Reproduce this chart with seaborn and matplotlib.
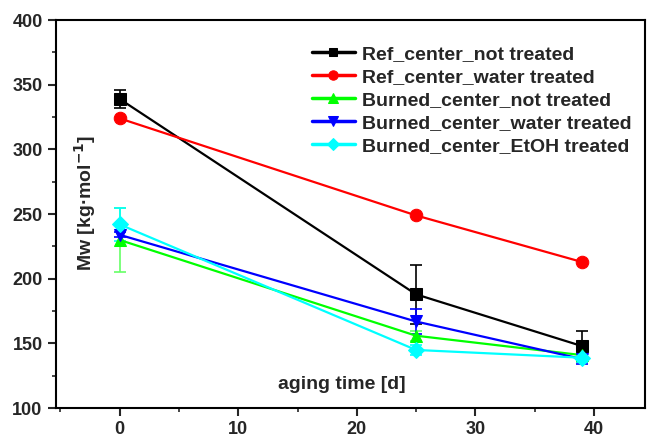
import pandas as pd
import seaborn as sns
import matplotlib.pyplot as plt
from matplotlib.ticker import MultipleLocator

days = [0, 25, 39]
series = ['Ref_center_not treated', 'Ref_center_water treated',
          'Burned_center_not treated', 'Burned_center_water treated',
          'Burned_center_EtOH treated']
ref_not = [339, 188, 148]
ref_not_err = [7, 23, 12]
ref_water = [324, 249, 213]
ref_water_err = [0, 0, 0]
burn_not = [230, 156, 141]
burn_not_err = [25, 4, 3]
burn_water = [234, 167, 138]
burn_water_err = [2, 10, 4]
burn_etoh = [242, 145, 139]
burn_etoh_err = [13, 4, 3]

colors = ['#000000', '#ff0000', '#00ff00', '#0000ff', '#00ffff']
markers = ['s', 'o', '^', 'v', 'D']
sizes = [8, 9, 9, 9, 8]

vals = [ref_not, ref_water, burn_not, burn_water, burn_etoh]
errs = [ref_not_err, ref_water_err, burn_not_err, burn_water_err, burn_etoh_err]

rows = []
for name, v, e in zip(series, vals, errs):
    for d, y, s in zip(days, v, e):
        rows.append({'day': d, 'Mw': y, 'err': s, 'sample': name})
df = pd.DataFrame(rows)

sns.set_style('white')
plt.rcParams['font.family'] = ['Liberation Sans', 'DejaVu Sans']
plt.rcParams['font.weight'] = 'bold'

fig = plt.figure(figsize=(6.48, 4.37), dpi=100)
ax = fig.add_axes([0.086, 0.066, 0.909, 0.888])

# error bars first, under the markers
for name, c in zip(series, colors):
    sub = df[df['sample'] == name]
    if sub['err'].sum() > 0:
        ax.errorbar(sub['day'], sub['Mw'], yerr=sub['err'], fmt='none',
                    ecolor=c if c != '#00ff00' else '#66ff66', elinewidth=1.2,
                    capsize=4, capthick=1.2, zorder=2)

for name, c, m, s in zip(series, colors, markers, sizes):
    sub = df[df['sample'] == name]
    sns.lineplot(data=sub, x='day', y='Mw', color=c, marker=m, markersize=s,
                 markeredgecolor=c, linewidth=1.6, label=name, ax=ax, zorder=3)

ax.set_xlim(-5.4, 44.3)
ax.set_ylim(100, 400)
ax.xaxis.set_major_locator(MultipleLocator(10))
ax.xaxis.set_minor_locator(MultipleLocator(5))
ax.yaxis.set_major_locator(MultipleLocator(50))
ax.yaxis.set_minor_locator(MultipleLocator(25))
ax.tick_params(which='major', direction='out', length=6, width=1.5,
               labelsize=13, bottom=True, left=True)
ax.tick_params(which='minor', direction='out', length=3, width=1.2,
               bottom=True, left=True)
for t in ax.get_xticklabels() + ax.get_yticklabels():
    t.set_fontweight('bold')
for sp in ax.spines.values():
    sp.set_linewidth(1.5)
    sp.set_color('black')

ax.set_xlabel('aging time [d]', fontsize=14, fontweight='bold')
ax.xaxis.set_label_coords(0.486, 0.082)
ax.set_ylabel('Mw [kg·mol$^{\\mathbf{-1}}$]', fontsize=14, fontweight='bold')
ax.yaxis.set_label_coords(0.071, 0.53)

leg = ax.legend(loc='upper left', bbox_to_anchor=(0.405, 0.98), frameon=False,
                handlelength=2.2, handletextpad=0.4, labelspacing=0.28,
                markerscale=0.75, prop={'weight': 'bold', 'size': 14})
for ln in leg.get_lines():
    ln.set_linewidth(2.5)

fig.savefig('out.png', dpi=100)
